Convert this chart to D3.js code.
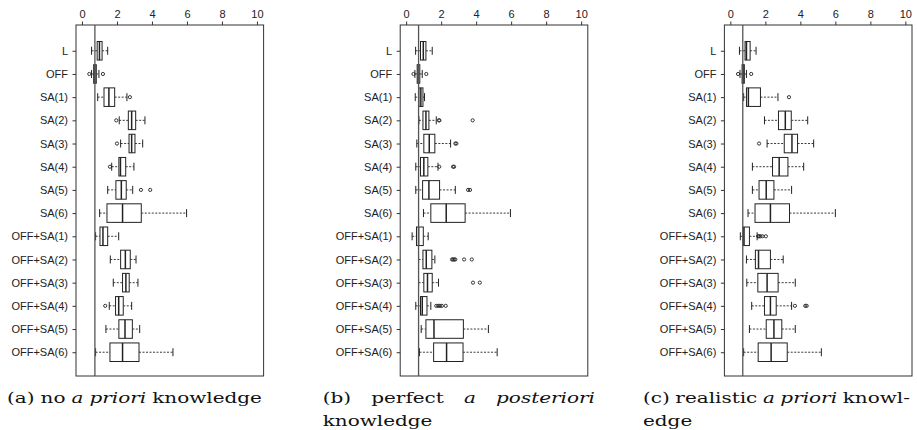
<!DOCTYPE html>
<html>
<head>
<meta charset="utf-8">
<script src="https://cdn.jsdelivr.net/npm/d3@7"></script>
<style>
  body { margin: 0; background: #fff; }
  svg { display: block; }
</style>
</head>
<body>
<svg id="chart"></svg>
<script>
(function() {

const categories = ["L", "OFF", "SA(1)", "SA(2)", "SA(3)", "SA(4)", "SA(5)", "SA(6)",
  "OFF+SA(1)", "OFF+SA(2)", "OFF+SA(3)", "OFF+SA(4)", "OFF+SA(5)", "OFF+SA(6)"];
const xTicks = [0, 2, 4, 6, 8, 10];

// [lower whisker, q1, median, q3, upper whisker] per category
const statsA = [
  [0.55, 0.87, 1.00, 1.15, 1.47], [0.55, 0.67, 0.74, 0.82, 0.97], [0.90, 1.26, 1.54, 1.87, 2.57],
  [2.13, 2.65, 2.84, 3.07, 3.60], [2.21, 2.69, 2.84, 3.03, 3.47], [1.70, 2.11, 2.20, 2.50, 2.97],
  [1.47, 1.94, 2.25, 2.53, 2.90], [1.01, 1.43, 2.32, 3.39, 5.98], [0.78, 1.03, 1.20, 1.47, 2.10],
  [1.62, 2.21, 2.48, 2.76, 3.09], [1.79, 2.32, 2.51, 2.70, 3.20], [1.56, 1.92, 2.10, 2.36, 2.84],
  [1.37, 2.11, 2.46, 2.88, 3.30], [0.78, 1.60, 2.32, 3.26, 5.20]
];
const outliersA = [[], [0.42, 1.2], [2.74], [1.96], [2.0], [1.6], [3.37, 3.9], [], [], [], [], [1.33], [], []];

const statsB = [
  [0.54, 0.82, 0.98, 1.13, 1.49], [0.50, 0.63, 0.70, 0.78, 0.92], [0.52, 0.73, 0.84, 0.96, 1.05],
  [0.73, 0.96, 1.13, 1.30, 1.72], [0.61, 1.01, 1.32, 1.64, 2.54], [0.55, 0.82, 1.01, 1.24, 1.82],
  [0.55, 0.94, 1.30, 1.91, 2.81], [0.99, 1.41, 2.29, 3.37, 5.96], [0.34, 0.59, 0.71, 0.98, 1.26],
  [0.71, 0.96, 1.15, 1.47, 1.64], [0.71, 1.01, 1.22, 1.49, 1.85], [0.55, 0.82, 0.92, 1.19, 1.41],
  [0.86, 1.13, 1.59, 3.27, 4.70], [0.76, 1.57, 2.31, 3.25, 5.20]
];
const outliersB = [[], [0.42, 1.15], [], [1.87, 1.9, 3.8], [2.81, 2.87], [1.89, 2.68, 2.74], [3.54, 3.65], [], [],
  [2.62, 2.68, 2.75, 2.81, 3.31, 3.75], [3.82, 4.21], [1.72, 1.83, 1.93, 2.04, 2.26], [], []];

const statsC = [
  [0.52, 0.84, 0.92, 1.13, 1.47], [0.55, 0.67, 0.73, 0.80, 0.92], [0.76, 0.92, 1.03, 1.72, 2.72],
  [1.95, 2.75, 3.14, 3.48, 4.42], [2.10, 3.08, 3.52, 3.84, 4.76], [1.26, 2.41, 2.79, 3.29, 4.19],
  [1.26, 1.64, 2.05, 2.49, 3.50], [1.01, 1.41, 2.29, 3.38, 6.00], [0.57, 0.73, 0.78, 1.09, 1.53],
  [0.92, 1.43, 1.61, 2.29, 3.02], [0.94, 1.57, 2.10, 2.73, 3.71], [1.22, 1.95, 2.29, 2.62, 3.50],
  [1.09, 2.05, 2.49, 2.94, 3.71], [0.76, 1.59, 2.33, 3.25, 5.20]
];
const outliersC = [[], [0.44, 1.19], [3.35], [], [1.64], [], [], [], [1.59, 1.64, 1.72, 1.84, 2.03], [], [],
  [3.69, 4.28, 4.36], [], []];

const refLines = [0.74, 0.71, 0.71];

// caption lines: words as [text, italic]
const captionA = [[["(a)", 0], ["no", 0], ["a", 1], ["priori", 1], ["knowledge", 0]]];
const captionB = [[["(b)", 0], ["perfect", 0], ["a", 1], ["posteriori", 1]], [["knowledge", 0]]];
const captionC = [[["(c)", 0], ["realistic", 0], ["a", 1], ["priori", 1], ["knowl-", 0]], [["edge", 0]]];

const panels = [
  { stats: statsA, outliers: outliersA, ref: refLines[0], caption: captionA },
  { stats: statsB, outliers: outliersB, ref: refLines[1], caption: captionB },
  { stats: statsC, outliers: outliersC, ref: refLines[2], caption: captionC },
];

const W = 917, H = 430;
const frameTop = 25, frameBottom = 376;
const frameW = 187.6, panelStep = 324.2, firstLeft = 76;
const captionLeft = [7, 322.7, 643], captionRight = [262, 595, 910];
const capFont = "'DejaVu Serif', serif", capSize = 15.5;
const tickFont = "'Liberation Sans', Arial, sans-serif";
const ink = "#222";

const svg = d3.select("#chart")
    .attr("width", W)
    .attr("height", H);

// measure caption words (unscaled)
function measure(words) {
  const tmp = svg.append("g").style("font-family", capFont).style("font-size", capSize + "px");
  const w = words.map(d => tmp.append("text")
    .style("font-style", d[1] ? "italic" : "normal")
    .text(d[0]).node().getComputedTextLength());
  tmp.remove();
  return w;
}
// stretch all captions by one factor so caption (a) has its original width
const spaceW = capSize * 0.3;
const natA = d3.sum(measure(captionA[0])) + spaceW * (captionA[0].length - 1);
const sx = (captionRight[0] - captionLeft[0]) / natA;

panels.forEach((p, k) => {
  const left = firstLeft + k * panelStep;
  const g = svg.append("g");

  const x = d3.scaleLinear()
    .domain([-0.34, 10.38])
    .range([left, left + frameW]);

  const y = d3.scalePoint()
    .domain(categories)
    .range([26.2, 376.8])
    .padding(1.06);

  const step = y.step();
  const boxH = step * 0.8;
  const capH = 8;

  // frame
  g.append("rect")
    .attr("x", left).attr("y", frameTop)
    .attr("width", frameW).attr("height", frameBottom - frameTop)
    .attr("fill", "none").attr("stroke", "#333").attr("stroke-width", 1);

  // top axis
  const xAxis = g.append("g")
    .attr("transform", `translate(0,${frameTop})`)
    .call(d3.axisTop(x).tickValues(xTicks).tickSize(3.5).tickPadding(4));
  xAxis.select(".domain").remove();
  xAxis.selectAll("line").attr("stroke", "#333");
  xAxis.selectAll("text")
    .style("font-family", tickFont)
    .style("font-size", "11px").attr("fill", ink);

  // left axis
  const yAxis = g.append("g")
    .attr("transform", `translate(${left},0)`)
    .call(d3.axisLeft(y).tickSize(3.5).tickPadding(4.5));
  yAxis.select(".domain").remove();
  yAxis.selectAll("line").attr("stroke", "#333");
  yAxis.selectAll("text")
    .style("font-family", tickFont)
    .style("font-size", "11px").attr("fill", ink);

  const rows = categories.map((c, i) => ({ cat: c, s: p.stats[i], out: p.outliers[i] }));

  const box = g.selectAll(".box")
    .data(rows)
    .enter().append("g")
    .attr("class", "box");

  // whiskers (dashed)
  box.append("line")
    .attr("x1", d => x(d.s[0])).attr("x2", d => x(d.s[1]))
    .attr("y1", d => y(d.cat)).attr("y2", d => y(d.cat))
    .attr("stroke", ink).attr("stroke-width", 0.9).attr("stroke-dasharray", "2,1.5");
  box.append("line")
    .attr("x1", d => x(d.s[3])).attr("x2", d => x(d.s[4]))
    .attr("y1", d => y(d.cat)).attr("y2", d => y(d.cat))
    .attr("stroke", ink).attr("stroke-width", 0.9).attr("stroke-dasharray", "2,1.5");

  // staples
  [0, 4].forEach(j => {
    box.append("line")
      .attr("x1", d => x(d.s[j])).attr("x2", d => x(d.s[j]))
      .attr("y1", d => y(d.cat) - capH / 2).attr("y2", d => y(d.cat) + capH / 2)
      .attr("stroke", ink).attr("stroke-width", 1);
  });

  // box
  box.append("rect")
    .attr("x", d => x(d.s[1]))
    .attr("width", d => x(d.s[3]) - x(d.s[1]))
    .attr("y", d => y(d.cat) - boxH / 2)
    .attr("height", boxH)
    .attr("fill", "#fff").attr("stroke", ink).attr("stroke-width", 1);

  // median
  box.append("line")
    .attr("x1", d => x(d.s[2])).attr("x2", d => x(d.s[2]))
    .attr("y1", d => y(d.cat) - boxH / 2).attr("y2", d => y(d.cat) + boxH / 2)
    .attr("stroke", ink).attr("stroke-width", 1.5);

  // outliers
  box.selectAll("circle")
    .data(d => d.out.map(v => ({ v: v, cat: d.cat })))
    .enter().append("circle")
    .attr("cx", d => x(d.v)).attr("cy", d => y(d.cat))
    .attr("r", 1.6)
    .attr("fill", "none").attr("stroke", ink).attr("stroke-width", 0.9);

  // reference line
  g.append("line")
    .attr("x1", x(p.ref)).attr("x2", x(p.ref))
    .attr("y1", frameTop).attr("y2", frameBottom)
    .attr("stroke", "#555").attr("stroke-width", 1.3);

  // caption, justified like the LaTeX subcaption
  p.caption.forEach((words, li) => {
    const baseY = 402.5 + li * 23;
    const justify = li < p.caption.length - 1 || p.caption.length === 1;
    const line = g.append("g")
      .attr("transform", `translate(${captionLeft[k]},${baseY}) scale(${sx},1)`)
      .style("font-family", capFont)
      .style("font-size", capSize + "px")
      .attr("fill", "#111");
    const widths = measure(words);
    const span = (captionRight[k] - captionLeft[k]) / sx;
    const gap = justify && words.length > 1
      ? (span - d3.sum(widths)) / (words.length - 1) : spaceW;
    let cx = 0;
    words.forEach((w, i) => {
      line.append("text")
        .attr("x", cx).attr("y", 0)
        .style("font-style", w[1] ? "italic" : "normal")
        .text(w[0]);
      cx += widths[i] + gap;
    });
  });
});

})();
</script>
</body>
</html>
